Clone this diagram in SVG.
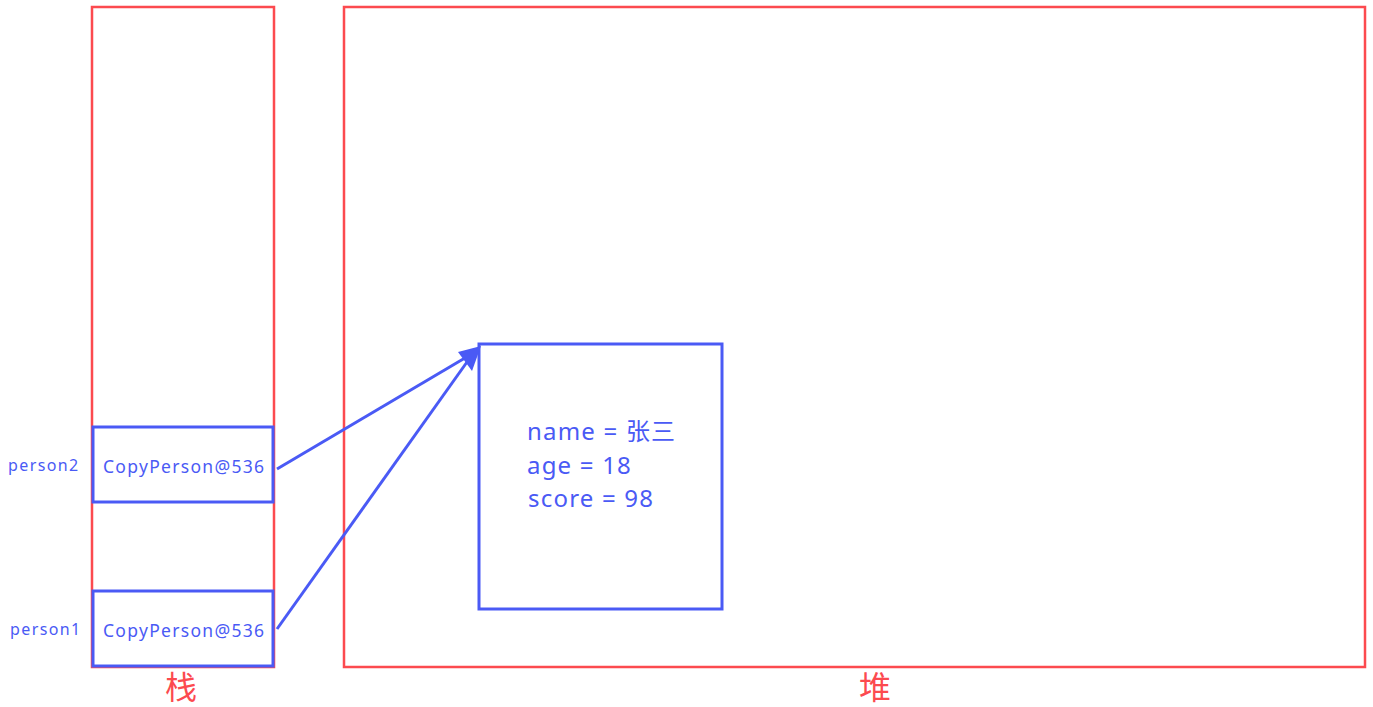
<svg xmlns="http://www.w3.org/2000/svg" width="1373" height="707" viewBox="0 0 1373 707">
<style>
.area{fill:none;stroke:#fc4a4f;stroke-width:2.5}
.box{fill:none;stroke:#4a5af5;stroke-width:3}
.t{font-family:"Noto Sans","Noto Sans CJK SC",sans-serif;fill:#4a5af5}
.v{font-size:17.5px;letter-spacing:1.3px}
.n{font-size:16px;letter-spacing:1.4px}
.f{font-size:24px;letter-spacing:1.2px}
.r{font-family:"Noto Sans CJK SC",sans-serif;fill:#fc4a4f;font-size:32px;text-anchor:middle}
.c{stroke:#4a5af5;stroke-width:3;fill:none}
</style>
<g id="stack">
<rect class="area" x="92" y="7" width="182" height="660"/>
<text class="r" x="181" y="699">栈</text>
</g>
<g id="heap">
<rect class="area" x="344" y="7" width="1021" height="660"/>
<text class="r" x="875" y="699">堆</text>
</g>
<g id="person2">
<rect class="box" x="93" y="427" width="180" height="75"/>
<text class="t v" x="103" y="473">CopyPerson@536</text>
<text class="t n" x="8" y="471">person2</text>
</g>
<g id="person1">
<rect class="box" x="93" y="591" width="180" height="75"/>
<text class="t v" x="103" y="637">CopyPerson@536</text>
<text class="t n" x="10" y="635">person1</text>
</g>
<g id="object">
<rect class="box" x="479" y="344" width="243" height="265"/>
<text class="t f" x="527" y="440">name = 张三</text>
<text class="t f" x="527" y="474">age = 18</text>
<text class="t f" x="528" y="507">score = 98</text>
</g>
<g id="connectors">
<line class="c" x1="277" y1="469" x2="470" y2="355"/>
<line class="c" x1="277" y1="629" x2="472" y2="355"/>
<path d="M481,346 L458,352 L472,371 z" fill="#4a5af5"/>
</g>
</svg>
